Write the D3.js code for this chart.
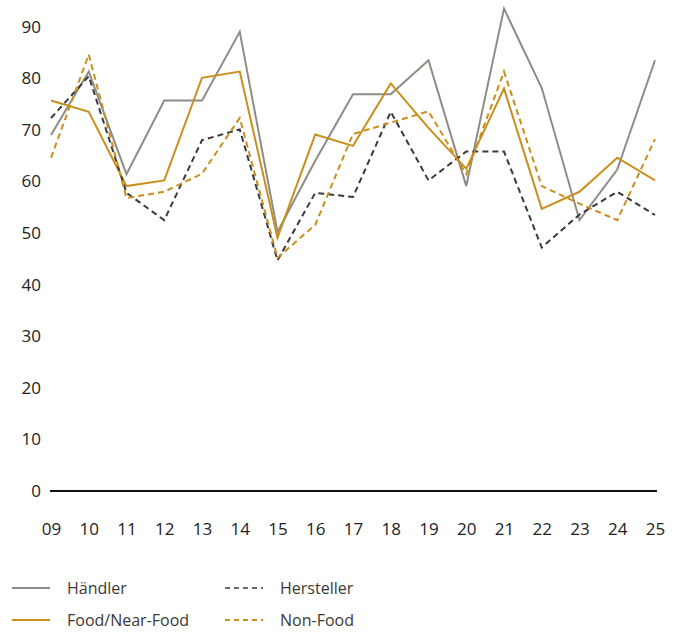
<!DOCTYPE html>
<html>
<head>
<meta charset="utf-8">
<script src="https://cdn.jsdelivr.net/npm/d3@7"></script>
<style>
  html, body { margin: 0; padding: 0; background: #fff; }
  svg { display: block; }
</style>
</head>
<body>
<svg id="chart" width="681" height="633"></svg>
<script>
const years = ["09","10","11","12","13","14","15","16","17","18","19","20","21","22","23","24","25"];
const haendler   = [69.0, 81.3, 61.4, 75.7, 75.7, 89.0, 50.2, 64.0, 76.9, 76.9, 83.5, 59.1, 93.5, 78.1, 52.5, 62.3, 83.5];
const hersteller = [72.3, 80.4, 57.8, 52.5, 68.0, 70.1, 44.7, 57.8, 57.0, 73.5, 60.2, 65.8, 65.8, 47.2, 53.6, 58.0, 53.5];
const foodNear   = [75.7, 73.5, 59.1, 60.2, 80.1, 81.3, 49.1, 69.1, 66.9, 79.0, 70.4, 62.5, 78.0, 54.7, 58.0, 64.6, 60.2];
const nonFood    = [64.6, 84.6, 56.8, 58.0, 61.5, 72.3, 45.2, 51.6, 69.2, 71.4, 73.6, 61.4, 81.3, 59.1, 55.7, 52.5, 68.2];
const yTicks = [0, 10, 20, 30, 40, 50, 60, 70, 80, 90];

const seriesNames = ["Händler", "Hersteller", "Food/Near-Food", "Non-Food"];
const seriesColors = ["#8f8c84", "#3a3a3a", "#c98f1c", "#c98f1c"];
const seriesDash = [null, "6,4", null, "6,4"];
const seriesData = [haendler, hersteller, foodNear, nonFood];

const svg = d3.select("#chart");
const x = d3.scalePoint().domain(years).range([51, 655]);
const y = d3.scaleLinear().domain([0, 90]).range([491, 26.7]);

// Y axis labels
const yAxis = d3.axisLeft(y).tickValues(yTicks).tickSize(0).tickPadding(0).tickFormat(d3.format("d"));
const gy = svg.append("g").attr("transform", "translate(41,0)").call(yAxis);
gy.select(".domain").remove();
gy.selectAll("text").attr("font-family", "Open Sans, sans-serif").attr("font-size", 17).attr("fill", "#222");

// X axis labels
const xAxis = d3.axisBottom(x).tickSize(0).tickPadding(0);
const gx = svg.append("g").attr("transform", "translate(0,523)").call(xAxis);
gx.select(".domain").remove();
gx.selectAll("text").attr("font-family", "Open Sans, sans-serif").attr("font-size", 17).attr("fill", "#222").attr("dy", "0.71em");

// Zero line
svg.append("line")
  .attr("x1", 50).attr("x2", 657)
  .attr("y1", y(0)).attr("y2", y(0))
  .attr("stroke", "#111").attr("stroke-width", 2);

const line = d3.line().x((d, i) => x(years[i])).y(d => y(d));

// draw order: Händler, Food, Hersteller, Non-Food
[0, 2, 1, 3].forEach(k => {
  svg.append("path")
    .datum(seriesData[k])
    .attr("d", line)
    .attr("fill", "none")
    .attr("stroke", seriesColors[k])
    .attr("stroke-width", 2)
    .attr("stroke-dasharray", seriesDash[k])
    .attr("stroke-linejoin", "miter");
});

// Legend
const legendPos = [[12, 588], [225, 588], [12, 620], [225, 620]];
seriesNames.forEach((name, k) => {
  const [lx, ly] = legendPos[k];
  const g = svg.append("g").attr("transform", `translate(${lx},${ly})`);
  g.append("line")
    .attr("x1", 0).attr("x2", 38).attr("y1", 0).attr("y2", 0)
    .attr("stroke", seriesColors[k] === "#3a3a3a" ? "#6e6c66" : seriesColors[k])
    .attr("stroke-width", 2)
    .attr("stroke-dasharray", seriesDash[k] ? "5,4" : null);
  g.append("text")
    .attr("x", 55).attr("y", 0).attr("dy", "0.35em")
    .attr("font-family", "Open Sans, sans-serif").attr("font-size", 16)
    .attr("fill", "#3b3a33")
    .text(name);
});
</script>
</body>
</html>
